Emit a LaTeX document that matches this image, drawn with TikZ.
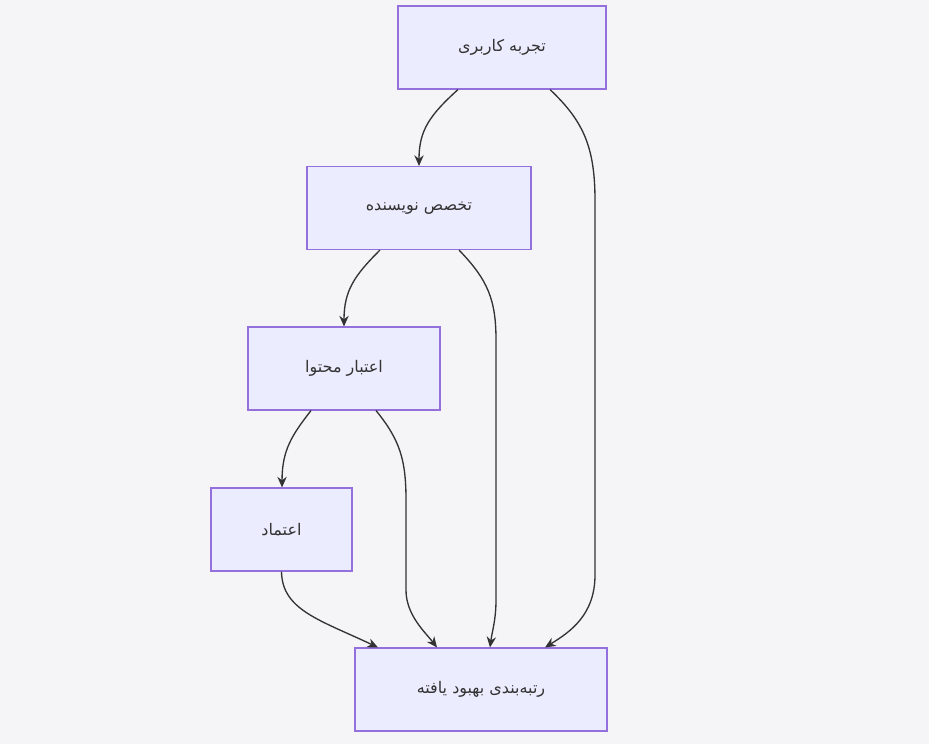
\documentclass[tikz,border=0pt]{standalone}
\usepackage{fontspec}
\newfontfamily\arabicfont[Script=Arabic]{DejaVu Sans}
\TeXXeTstate=1
\usetikzlibrary{arrows.meta}
\definecolor{bgcol}{HTML}{F5F5F7}
\definecolor{boxfill}{HTML}{ECECFF}
\definecolor{boxline}{HTML}{9370DB}
\definecolor{inkcol}{HTML}{333333}
\tikzset{
  factor/.style={draw=boxline,fill=boxfill,line width=0.8pt,minimum height=62.25pt,
    font=\arabicfont\fontsize{12}{14}\selectfont,text=inkcol,inner sep=0pt},
  link/.style={draw=inkcol,line width=1pt,-{Stealth[length=8pt,width=7pt]}}
}
\newcommand{\rtl}[1]{\beginR #1\endR}
\begin{document}
\begin{tikzpicture}[x=0.75pt,y=-0.75pt]
  % Background and page size
  \fill[bgcol] (0,0) rectangle (929,744);
  \useasboundingbox (0,0) rectangle (929,744);

  % Factors
  \node[factor,minimum width=156pt] (ux) at (502,47.5) {\rtl{تجربه کاربری}};
  \node[factor,minimum width=168pt] (expert) at (419,208) {\rtl{تخصص نویسنده}};
  \node[factor,minimum width=144pt] (valid) at (344,368.5) {\rtl{اعتبار محتوا}};
  \node[factor,minimum width=105.75pt] (trust) at (281.5,529.5) {\rtl{اعتماد}};
  \node[factor,minimum width=189pt] (rank) at (481,689.5) {\rtl{رتبه‌بندی بهبود یافته}};

  % Chain downwards
  \draw[link] ([xshift=-33pt]ux.south) .. controls (430,115) and (419,130) .. (expert.north);
  \draw[link] ([xshift=-29.25pt]expert.south) .. controls (355,275) and (344,290) .. (valid.north);
  \draw[link] ([xshift=-24.75pt]valid.south) .. controls (292,435) and (282,450) .. ([xshift=0.4pt]trust.north);

  % Links to the ranking
  \draw[link] ([xshift=36pt]ux.south) .. controls (582,120) and (595,145) .. (595,200)
    -- (595,575) .. controls (595,615) and (570,632) .. ([xshift=48pt]rank.north);
  \draw[link] ([xshift=30pt]expert.south) .. controls (488,280) and (496,300) .. (496,340)
    -- (496,600) .. controls (496,620) and (492,632) .. ([xshift=6.75pt]rank.north);
  \draw[link] ([xshift=24pt]valid.south) .. controls (400,440) and (406,460) .. (406,500)
    -- (406,590) .. controls (406,615) and (425,632) .. ([xshift=-33pt]rank.north);
  \draw[link] (trust.south) .. controls (282,610) and (320,620) .. ([xshift=-77.25pt]rank.north);
\end{tikzpicture}
\end{document}
